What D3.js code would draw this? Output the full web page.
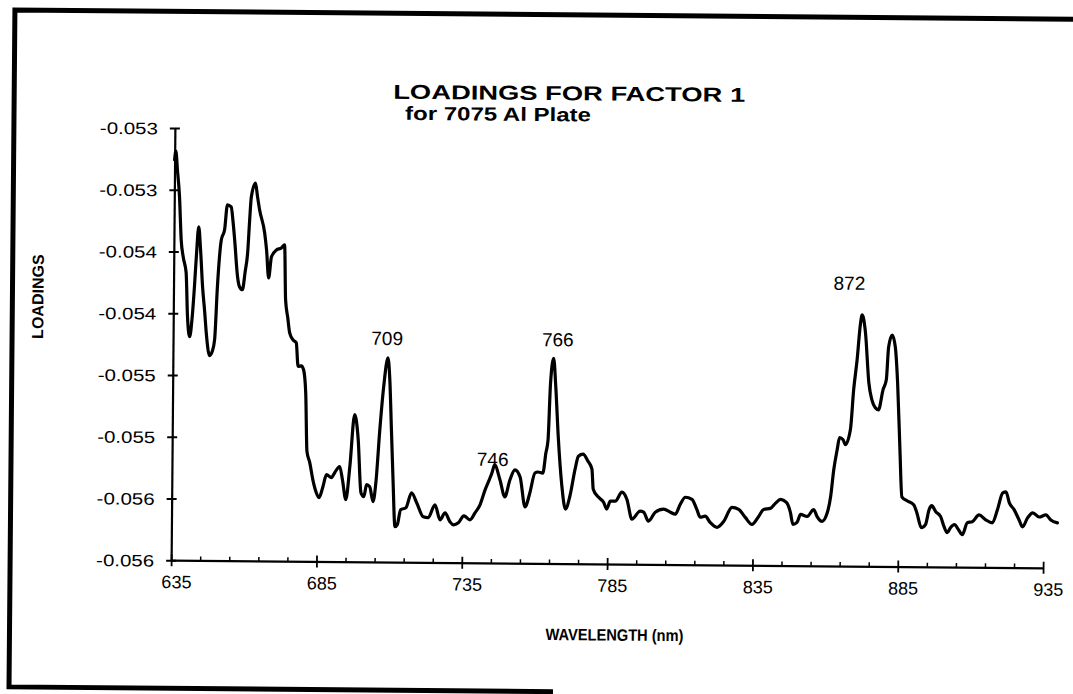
<!DOCTYPE html>
<html>
<head>
<meta charset="utf-8">
<script src="https://cdn.jsdelivr.net/npm/d3@7"></script>
<style>
  html, body { margin: 0; padding: 0; background: #fff; }
  svg { display: block; }
  text { font-family: "Liberation Sans", Arial, Helvetica, sans-serif; fill: #000; }
</style>
</head>
<body>
<script>
// Factor 1 loadings across the measured wavelength range (nm)
const wavelength = [
  635.0, 635.4, 636.0, 636.8, 637.5, 638.3, 639.3, 639.9, 640.7, 641.5,
  642.2, 642.8, 643.5, 644.2, 645.0, 645.8, 646.4, 647.6, 648.5, 649.3,
  650.1, 651.3, 652.4, 653.3, 654.6, 655.3, 655.9, 657.0, 657.7, 658.7,
  659.6, 660.4, 661.0, 661.5, 662.9, 663.6, 664.4, 666.2, 666.9, 667.7,
  668.6, 670.3, 672.0, 673.1, 673.6, 674.4, 675.1, 676.3, 677.4, 678.1,
  679.2, 680.0, 680.8, 681.4, 682.4, 683.5, 684.6, 685.7, 687.0, 688.2,
  689.9, 691.0, 692.7, 693.7, 694.9, 696.2, 697.7, 699.0, 700.1, 701.1,
  702.0, 703.1, 704.3, 705.2, 706.4, 707.6, 709.0, 709.7, 710.4, 711.1,
  711.9, 712.7, 713.8, 715.6, 717.5, 719.3, 721.6, 723.3, 725.6, 727.4,
  729.1, 730.8, 732.0, 733.7, 735.6, 737.7, 739.4, 741.1, 742.8, 744.2,
  745.1, 746.0, 747.9, 749.6, 751.3, 753.0, 754.8, 756.6, 758.2, 759.9,
  760.9, 762.6, 763.6, 764.3, 765.0, 766.0, 766.8, 767.8, 769.2, 770.5,
  772.0, 773.7, 774.8, 776.4, 778.1, 779.5, 780.0, 781.8, 783.6, 784.7,
  785.9, 787.6, 789.9, 791.6, 793.4, 796.2, 797.4, 799.1, 801.4, 804.3,
  806.6, 808.3, 810.0, 811.7, 814.0, 815.7, 816.9, 818.6, 820.3, 822.7,
  825.0, 827.8, 830.1, 832.4, 834.7, 837.0, 838.7, 841.0, 842.7, 844.5,
  846.5, 847.9, 848.8, 850.2, 851.4, 853.7, 855.9, 857.1, 858.8, 860.6,
  861.7, 862.7, 863.8, 864.6, 865.8, 866.6, 868.3, 869.3, 870.4, 871.4,
  872.0, 873.2, 874.5, 875.6, 876.8, 877.9, 879.4, 880.5, 881.2, 882.4,
  883.5, 884.4, 885.4, 886.2, 888.0, 890.3, 891.4, 893.0, 894.4, 895.6,
  896.5, 897.9, 899.6, 900.8, 901.9, 903.0, 904.4, 905.8, 907.1, 908.8,
  910.5, 912.8, 915.1, 917.4, 919.1, 920.9, 922.0, 923.2, 924.9, 926.6,
  927.8, 929.5, 931.3, 933.5, 935.8, 937.5, 939.8
];

const loading = [
  -0.053259, -0.053186, -0.053340, -0.053557, -0.053905, -0.054050, -0.054171, -0.054527, -0.054689, -0.054535,
  -0.054284, -0.054025, -0.053799, -0.053985, -0.054284, -0.054486, -0.054655, -0.054841, -0.054808, -0.054711,
  -0.054283, -0.053903, -0.053821, -0.053619, -0.053635, -0.053757, -0.053902, -0.054200, -0.054281, -0.054305,
  -0.054160, -0.054006, -0.053740, -0.053553, -0.053440, -0.053545, -0.053658, -0.053844, -0.053981, -0.054207,
  -0.054037, -0.053981, -0.053964, -0.053939, -0.054384, -0.054529, -0.054651, -0.054707, -0.054731, -0.054922,
  -0.054917, -0.054949, -0.055135, -0.055609, -0.055700, -0.055837, -0.055934, -0.055983, -0.055894, -0.055796,
  -0.055820, -0.055780, -0.055730, -0.055836, -0.055997, -0.055730, -0.055309, -0.055511, -0.055940, -0.055972,
  -0.055875, -0.055891, -0.056012, -0.055858, -0.055430, -0.055082, -0.054847, -0.055025, -0.055429, -0.055833,
  -0.056213, -0.056196, -0.056075, -0.056059, -0.055937, -0.056017, -0.056131, -0.056138, -0.056033, -0.056154,
  -0.056097, -0.056169, -0.056194, -0.056177, -0.056120, -0.056152, -0.056095, -0.056030, -0.055908, -0.055827,
  -0.055771, -0.055706, -0.055827, -0.055964, -0.055827, -0.055745, -0.055802, -0.056044, -0.055930, -0.055768,
  -0.055760, -0.055768, -0.055606, -0.055501, -0.055040, -0.054838, -0.055064, -0.055469, -0.055872, -0.056058,
  -0.055952, -0.055734, -0.055629, -0.055612, -0.055668, -0.055733, -0.055895, -0.055959, -0.056000, -0.056055,
  -0.055991, -0.055991, -0.055917, -0.055974, -0.056135, -0.056070, -0.056078, -0.056150, -0.056077, -0.056052,
  -0.056076, -0.056092, -0.056011, -0.055954, -0.055970, -0.056051, -0.056115, -0.056106, -0.056155, -0.056195,
  -0.056146, -0.056033, -0.056048, -0.056113, -0.056169, -0.056104, -0.056047, -0.056038, -0.055997, -0.055965,
  -0.055989, -0.056069, -0.056166, -0.056150, -0.056085, -0.056101, -0.056044, -0.056101, -0.056140, -0.056068,
  -0.055938, -0.055719, -0.055558, -0.055461, -0.055477, -0.055517, -0.055394, -0.055071, -0.054828, -0.054546,
  -0.054465, -0.054610, -0.055014, -0.055152, -0.055216, -0.055232, -0.055070, -0.054989, -0.054723, -0.054626,
  -0.054723, -0.055014, -0.055555, -0.055935, -0.055967, -0.055999, -0.056063, -0.056184, -0.056159, -0.056038,
  -0.056005, -0.056053, -0.056093, -0.056174, -0.056223, -0.056182, -0.056157, -0.056198, -0.056238, -0.056140,
  -0.056132, -0.056076, -0.056115, -0.056139, -0.056034, -0.055896, -0.055888, -0.055976, -0.056033, -0.056114,
  -0.056170, -0.056097, -0.056056, -0.056089, -0.056072, -0.056112, -0.056135
];

// Axis ticks and their printed labels
const xTicks = [635, 685, 735, 785, 835, 885, 935];
const xMinorTicks = [645, 655, 665, 675, 695, 705, 715, 725, 745, 755, 765, 775,
                     795, 805, 815, 825, 845, 855, 865, 875, 895, 905, 915, 925];
const yTicks = [-0.0530, -0.0535, -0.0540, -0.0545, -0.0550, -0.0555, -0.0560, -0.0565];
const yTickLabels = ["-0.053", "-0.053", "-0.054", "-0.054", "-0.055", "-0.055", "-0.056", "-0.056"];

// Annotated emission lines (nm)
const peakLines = [709, 746, 766, 872];

// Text
const titleText = "LOADINGS FOR FACTOR 1";
const subtitleText = "for 7075 Al Plate";
const xTitle = "WAVELENGTH (nm)";
const yTitle = "LOADINGS";

// ---- layout ----
const W = 1073, H = 694;
const peakLabelOffset = { 709: [-1, -13], 746: [-2, 1], 766: [4, -12], 872: [-13, -25] };

const svg = d3.select("body").append("svg")
  .attr("width", W).attr("height", H);

// the whole sheet sits slightly skewed on the page
const page = svg.append("g").attr("transform", "rotate(0.5, 540, 347)");

// page frame
page.append("path")
  .attr("d", "M 556 691.5 L 12 691.5 L 12 14.5 L 1090 14.5")
  .attr("fill", "none").attr("stroke", "#000").attr("stroke-width", 5);

const x = d3.scaleLinear().domain([635, 935]).range([173, 1045]);
const y = d3.scaleLinear().domain([-0.0565, -0.0530]).range([563.4, 131.2]);

// y axis
const yAxis = page.append("g").attr("transform", `translate(${x(635)},0)`)
  .call(d3.axisLeft(y).tickValues(yTicks)
    .tickFormat((d, i) => yTickLabels[i]).tickSizeOuter(0).tickSizeInner(5).tickPadding(12));
yAxis.select(".domain").attr("stroke-width", 2.2);
yAxis.selectAll(".tick line").attr("x1", -5).attr("x2", 5).attr("stroke-width", 2);
yAxis.selectAll(".tick text")
  .attr("font-size", 16.5)
  .attr("textLength", 58)
  .attr("lengthAdjust", "spacingAndGlyphs")
  .attr("dy", "0.36em");

// x axis, major ticks crossing the line
const xAxis = page.append("g").attr("transform", `translate(0,${y(-0.0565)})`)
  .call(d3.axisBottom(x).tickValues(xTicks).tickFormat(d3.format("d"))
    .tickSizeOuter(0).tickSizeInner(6).tickPadding(9));
xAxis.select(".domain").attr("stroke-width", 2.2);
xAxis.selectAll(".tick line").attr("y1", -6).attr("y2", 6).attr("stroke-width", 1.8);
xAxis.selectAll(".tick text").attr("font-size", 18).attr("dx", 5).attr("dy", "0.72em");

// x axis minor ticks pointing up
page.append("g").attr("transform", `translate(0,${y(-0.0565)})`)
  .call(d3.axisBottom(x).tickValues(xMinorTicks).tickFormat("").tickSizeOuter(0).tickSizeInner(-4))
  .call(g => g.select(".domain").remove())
  .selectAll(".tick line").attr("stroke-width", 1.5);

// loading curve
const points = d3.zip(wavelength, loading);
page.append("path")
  .datum(points)
  .attr("fill", "none")
  .attr("stroke", "#000")
  .attr("stroke-width", 3.2)
  .attr("stroke-linejoin", "round")
  .attr("stroke-linecap", "round")
  .attr("d", d3.line().curve(d3.curveMonotoneX).x(d => x(d[0])).y(d => y(d[1])));

// peak annotations
const peakValue = nm => loading[d3.minIndex(wavelength, w => Math.abs(w - nm))];
page.append("g").selectAll("text")
  .data(peakLines)
  .join("text")
  .attr("x", d => x(d) + peakLabelOffset[d][0])
  .attr("y", d => y(peakValue(d)) + peakLabelOffset[d][1])
  .attr("text-anchor", "middle")
  .attr("font-size", 19)
  .text(d => d);

// titles
page.append("text")
  .attr("x", 567).attr("y", 100)
  .attr("text-anchor", "middle")
  .attr("font-weight", "bold").attr("font-size", 20)
  .attr("textLength", 352).attr("lengthAdjust", "spacingAndGlyphs")
  .text(titleText);
page.append("text")
  .attr("x", 496).attr("y", 121)
  .attr("text-anchor", "middle")
  .attr("font-weight", "bold").attr("font-size", 19)
  .attr("textLength", 186).attr("lengthAdjust", "spacingAndGlyphs")
  .text(subtitleText);

page.append("text")
  .attr("x", 617).attr("y", 640)
  .attr("text-anchor", "middle")
  .attr("font-weight", "bold").attr("font-size", 16.5)
  .attr("textLength", 138).attr("lengthAdjust", "spacingAndGlyphs")
  .text(xTitle);

page.append("text")
  .attr("transform", "translate(43, 301) rotate(-90)")
  .attr("text-anchor", "middle")
  .attr("font-weight", "bold").attr("font-size", 16)
  .text(yTitle);
</script>
</body>
</html>
